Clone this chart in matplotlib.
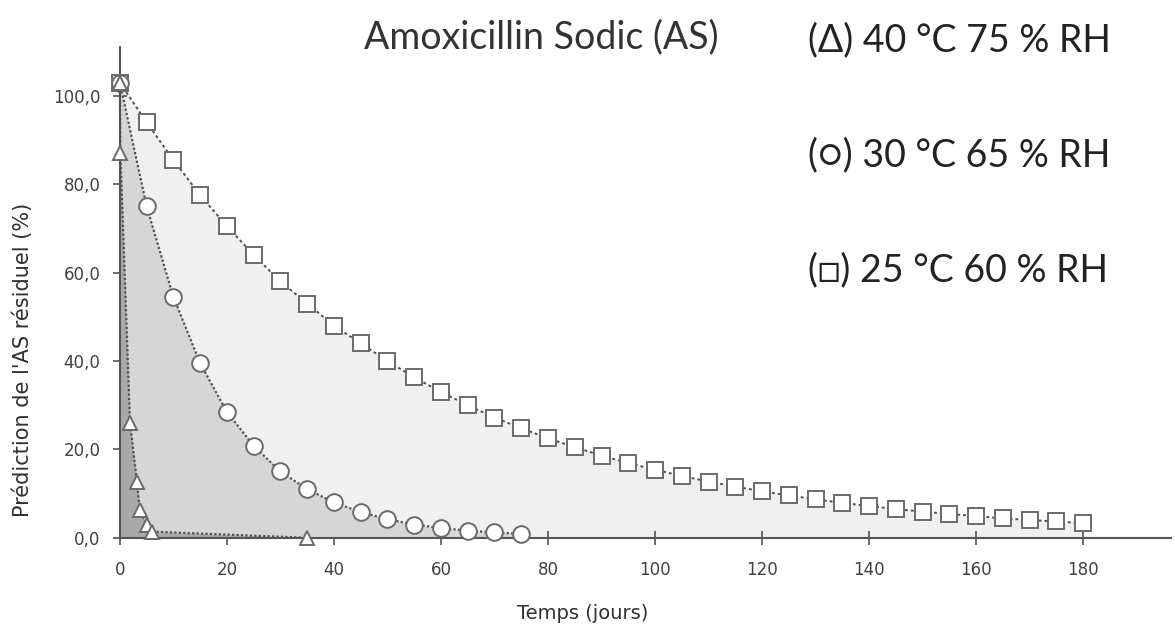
import numpy as np
import matplotlib
matplotlib.use("Agg")
import matplotlib.pyplot as plt

# valeurs
t_carre = [0, 5, 10, 15, 20, 25, 30, 35, 40, 45, 50, 55, 60, 65, 70, 75, 80, 85, 90,
           95, 100, 105, 110, 115, 120, 125, 130, 135, 140, 145, 150, 155, 160, 165,
           170, 175, 180]
y_carre = [103.0, 94.0, 85.5, 77.5, 70.5, 64.0, 58.0, 53.0, 48.0, 44.0, 40.0, 36.3,
           33.0, 30.0, 27.2, 24.8, 22.5, 20.5, 18.6, 16.9, 15.4, 14.0, 12.7, 11.6,
           10.5, 9.6, 8.7, 7.9, 7.2, 6.5, 5.9, 5.4, 4.9, 4.4, 4.0, 3.7, 3.3]

t_rond = [0, 5, 10, 15, 20, 25, 30, 35, 40, 45, 50, 55, 60, 65, 70, 75]
y_rond = [103.0, 75.0, 54.5, 39.5, 28.5, 20.8, 15.0, 11.0, 8.0, 5.8, 4.2, 3.0,
          2.2, 1.6, 1.2, 0.9]

t_tri = [0, 0.1, 1.9, 3.2, 3.7, 5.0, 6.0, 35]
y_tri = [103.0, 87.0, 26.0, 12.7, 6.3, 2.9, 1.4, 0.0]

y_ticks = [0, 20, 40, 60, 80, 100]
x_ticks = [0, 20, 40, 60, 80, 100, 120, 140, 160, 180]

legendes = ["(\u0394) 40 °C 75 % RH", "(\u25CB) 30 °C 65 % RH", "(\u25A1) 25 °C 60 % RH"]

plt.rcParams['font.family'] = ['DejaVu Sans']

fig = plt.figure(figsize=(11.75, 6.29), dpi=100)
ax = fig.add_axes([0.102, 0.145, 0.895, 0.78])

# zones grisées sous chaque courbe
ax.fill_between(t_carre, y_carre, 0, color='#f0f0f0', lw=0, zorder=1)
ax.fill_between(t_rond, y_rond, 0, color='#d6d6d6', lw=0, zorder=2)
ax.fill_between(t_tri, y_tri, 0, color='#a9a9a9', lw=0, zorder=3)

ax.plot(t_carre, y_carre, color='#505050', lw=1.4, ls=(0, (1.5, 1.5)), marker='s',
        ms=12, mfc='white', mec='#6a6a6a', mew=1.4, zorder=5, clip_on=False)
ax.plot(t_rond, y_rond, color='#505050', lw=1.6, ls=(0, (1, 1)), marker='o',
        ms=12, mfc='white', mec='#6a6a6a', mew=1.4, zorder=6, clip_on=False)
ax.plot(t_tri, y_tri, color='#505050', lw=1.6, ls=(0, (1, 1)), marker='^',
        ms=10, mfc='white', mec='#6a6a6a', mew=1.4, zorder=7, clip_on=False)

ax.set_xlim(0, 196.5)
ax.set_ylim(0, 111)
ax.spines['top'].set_visible(False)
ax.spines['right'].set_visible(False)
for s in ['left', 'bottom']:
    ax.spines[s].set_color('#555555')
    ax.spines[s].set_linewidth(1.5)
    ax.spines[s].set_zorder(4)

ax.set_yticks(y_ticks)
ax.set_yticklabels([f"{v:.1f}".replace('.', ',') for v in y_ticks])
ax.set_xticks(x_ticks)
ax.tick_params(direction='inout', length=10, width=1.2, color='#555555',
               labelsize=12, labelcolor='#404040')
ax.tick_params(axis='x', pad=12)
ax.tick_params(axis='y', pad=9)

ax.set_xlabel('Temps (jours)', fontsize=14, color='#303030', va='center')
ax.xaxis.set_label_coords(0.44, -0.155)
ax.set_ylabel("Prédiction de l'AS résiduel (%)", fontsize=15, color='#303030')
ax.yaxis.set_label_coords(-0.083, 0.363)

fig.text(0.461, 0.94, 'Amoxicillin Sodic (AS)', fontsize=27, color='#333333',
         ha='center', va='center', family=['Lato', 'DejaVu Sans'])
for i, txt in enumerate(legendes):
    fig.text(0.688, 0.936 - i * 0.183, txt, fontsize=27, color='#222222',
             ha='left', va='center',
             family=['Lato', 'Noto Sans CJK JP'] if i == 2 else ['Lato', 'DejaVu Sans'])

fig.savefig('out.png', dpi=100)
